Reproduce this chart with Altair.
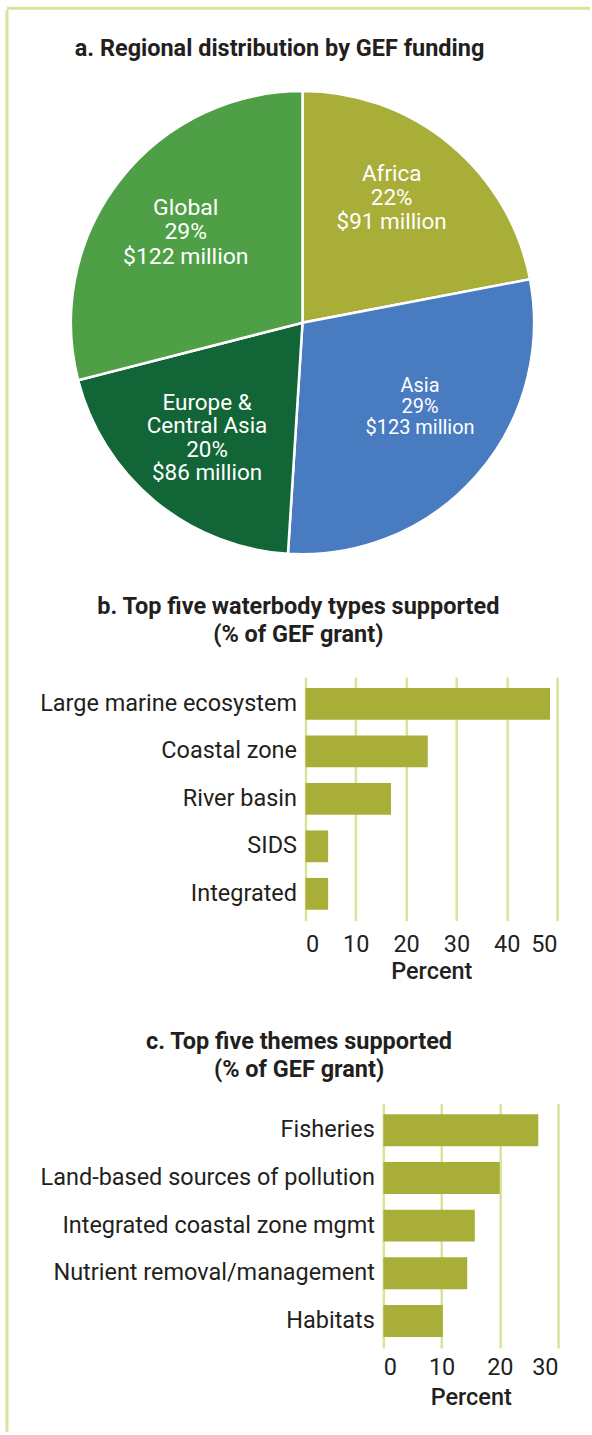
import altair as alt
import pandas as pd

# ---------------- data ----------------
regions = ["Africa", "Asia", "Europe & Central Asia", "Global"]
region_label_names = ["Africa", "Asia", "Europe &\nCentral Asia", "Global"]
region_pct = [22, 29, 20, 29]
region_musd = [91, 123, 86, 122]
region_colors = ["#a9ae38", "#487bbf", "#116536", "#4f9f46"]

water_types = ["Large marine ecosystem", "Coastal zone", "River basin", "SIDS", "Integrated"]
water_pct = [48.6, 24.3, 17.0, 4.5, 4.5]
water_ticks = [0, 10, 20, 30, 40, 50]

themes = ["Fisheries", "Land-based sources of pollution", "Integrated coastal zone mgmt",
          "Nutrient removal/management", "Habitats"]
theme_pct = [26.6, 20.0, 15.7, 14.4, 10.2]
theme_ticks = [0, 10, 20, 30]

# ---------------- style ----------------
FONT = "Roboto"
TEXT = "#231f20"
BAR = "#a9ae38"
GRID = "#d6e59a"
FS = 23.5

one = pd.DataFrame({"k": [0]})

# ---------------- pie ----------------
pie_df = pd.DataFrame({
    "region": regions,
    "label_name": region_label_names,
    "pct": region_pct,
    "musd": region_musd,
    "idx": list(range(len(regions))),
})
pie_base = alt.Chart(pie_df).transform_calculate(
    full_label="datum.label_name + '\\n' + datum.pct + '%\\n$' + datum.musd + ' million'"
)
arcs = pie_base.mark_arc(outerRadius=232, stroke="white", strokeWidth=2.5).encode(
    theta=alt.Theta("pct:Q", stack=True),
    color=alt.Color("region:N", scale=alt.Scale(domain=regions, range=region_colors), legend=None),
    order=alt.Order("idx:Q"),
)


def label_layer(region, font_size, line_height, n_lines, radius, dx=0, dy=0):
    # show the label only for the selected slice; others get empty text
    return pie_base.transform_calculate(
        shown=f"datum.region == '{region}' ? datum.full_label : ''"
    ).mark_text(
        radius=radius, color="white", font=FONT, fontSize=font_size,
        lineHeight=line_height, lineBreak="\n", align="center", baseline="middle",
        dx=dx, dy=dy - (n_lines - 1) / 2 * line_height,
    ).encode(
        theta=alt.Theta("pct:Q", stack=True),
        order=alt.Order("idx:Q"),
        text="shown:N",
    )


lab_africa = label_layer("Africa", 22.5, 24, 3, 148, dx=-5, dy=-11)
lab_global = label_layer("Global", 23, 24.5, 3, 148)
lab_asia = label_layer("Asia", 20, 21, 3, 145, dx=9, dy=-11)
lab_eu = label_layer("Europe & Central Asia", 22.5, 23.5, 4, 150)

pie = alt.layer(arcs, lab_africa, lab_global, lab_asia, lab_eu).properties(
    width=532, height=464,
    title=alt.TitleParams("a. Regional distribution by GEF funding", fontSize=FS,
                          fontWeight="bold", font=FONT, color=TEXT, anchor="middle",
                          offset=26, dx=-23),
)


# ---------------- bars ----------------
def bar_chart(cats, vals, ticks, width, height, title_lines, label_pad, title_pad, title_off):
    df = pd.DataFrame({"cat": cats, "val": vals})
    return alt.Chart(df).mark_bar(color=BAR).encode(
        y=alt.Y("cat:N", sort=None, title=None,
                scale=alt.Scale(paddingInner=0.33, paddingOuter=0.23),
                axis=alt.Axis(domain=False, ticks=False, labelPadding=9, labelFontSize=FS,
                              labelLimit=400, labelColor=TEXT, labelFont=FONT, grid=False)),
        x=alt.X("val:Q", title="Percent",
                scale=alt.Scale(domain=[ticks[0], ticks[-1]], nice=False),
                axis=alt.Axis(values=ticks, domain=False, ticks=False, grid=True,
                              gridColor=GRID, gridWidth=2.5, labelPadding=label_pad,
                              labelFontSize=FS, labelColor=TEXT, labelFont=FONT,
                              titleFontSize=FS, titleFontWeight=500, titleColor=TEXT,
                              titleFont=FONT, titlePadding=title_pad)),
    ).properties(
        width=width, height=height,
        title=alt.TitleParams(title_lines, fontSize=FS, fontWeight="bold", font=FONT,
                              color=TEXT, anchor="middle", frame="bounds",
                              lineHeight=28, offset=title_off),
    )


def spacer():
    return alt.Chart(one).mark_rule(opacity=0).encode(
        x=alt.value(0), y=alt.value(0), y2=alt.value(1)).properties(width=1, height=1)


chart_b = bar_chart(water_types, water_pct, water_ticks, 252, 244,
                    ["b. Top five waterbody types supported", "(% of GEF grant)"], 12, 3, 31)
chart_c = bar_chart(themes, theme_pct, theme_ticks, 175, 245,
                    ["c. Top five themes supported", "(% of GEF grant)"], 8, 6, 22)

row_b = alt.hconcat(spacer(), chart_b, spacing=0)
row_c = alt.hconcat(spacer(), chart_c, spacing=0)
bars = alt.vconcat(row_b, row_c, spacing=46)
main = alt.vconcat(pie, bars, spacing=35)

# ---------------- frame ----------------
D = 81.5
H2 = 1343
top_line = alt.Chart(one).mark_rule(color=GRID, strokeWidth=3).encode(
    x=alt.value(0), x2=alt.value(584), y=alt.value(0)).properties(width=1, height=1)

left_line = alt.Chart(one).mark_rule(color=GRID, strokeWidth=3).encode(
    x=alt.value(0), y=alt.value(-D), y2=alt.value(H2)).properties(width=1, height=1)

row2 = alt.hconcat(left_line, main, spacing=27)

chart = alt.vconcat(top_line, row2, spacing=-3).properties(
    padding={"left": 5, "top": 5, "right": 0, "bottom": 0},
    background="white",
).configure_view(stroke="transparent")

chart.save("out.html", embed_options={"renderer": "svg", "actions": False})
